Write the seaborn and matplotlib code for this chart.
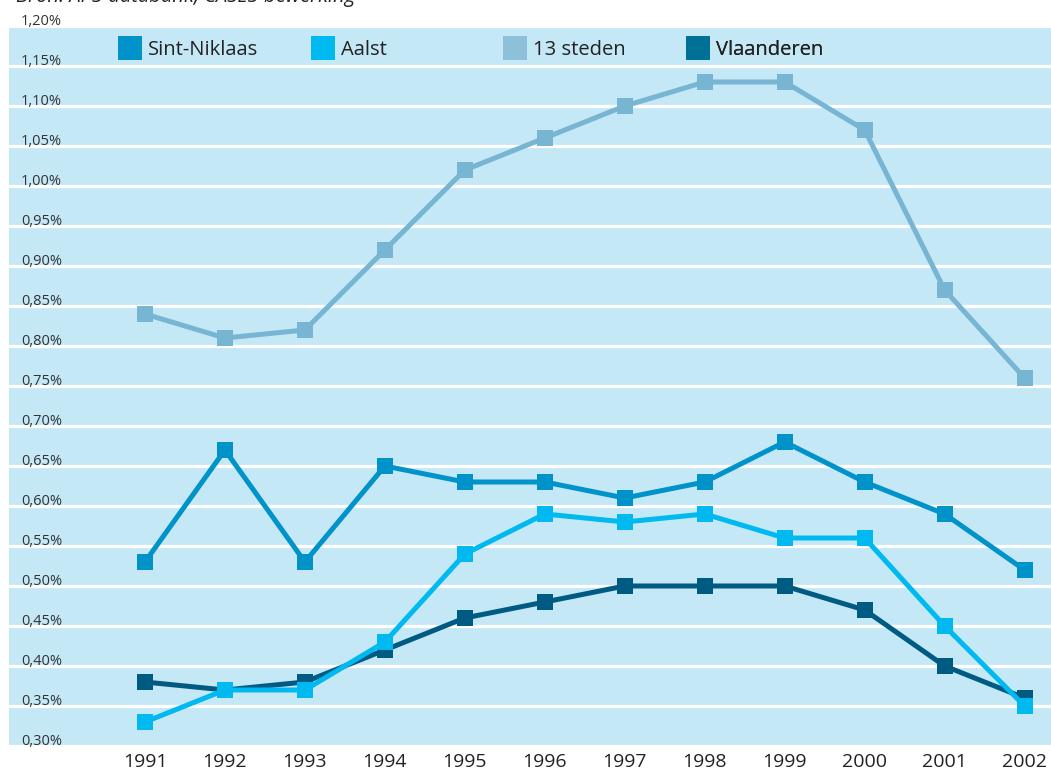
import matplotlib
matplotlib.use("Agg")
import matplotlib.pyplot as plt
import matplotlib.transforms as mtransforms
from matplotlib.lines import Line2D
import numpy as np
import pandas as pd
import seaborn as sns

# Werkloosheid / aandeel per jaar (in procent)
jaren = [1991, 1992, 1993, 1994, 1995, 1996, 1997, 1998, 1999, 2000, 2001, 2002]
sint_niklaas = [0.53, 0.67, 0.53, 0.65, 0.63, 0.63, 0.61, 0.63, 0.68, 0.63, 0.59, 0.52]
aalst = [0.33, 0.37, 0.37, 0.43, 0.54, 0.59, 0.58, 0.59, 0.56, 0.56, 0.45, 0.35]
dertien_steden = [0.84, 0.81, 0.82, 0.92, 1.02, 1.06, 1.10, 1.13, 1.13, 1.07, 0.87, 0.76]
vlaanderen = [0.38, 0.37, 0.38, 0.42, 0.46, 0.48, 0.50, 0.50, 0.50, 0.47, 0.40, 0.36]

reeksen = ["Sint-Niklaas", "Aalst", "13 steden", "Vlaanderen"]
y_ticks = [0.30, 0.35, 0.40, 0.45, 0.50, 0.55, 0.60, 0.65, 0.70, 0.75,
           0.80, 0.85, 0.90, 0.95, 1.00, 1.05, 1.10, 1.15, 1.20]
bron = "Bron: APS-databank, CASES-bewerking"

kleuren = {
    "Sint-Niklaas": "#0093c9",
    "Aalst": "#00b9f0",
    "13 steden": "#78b5d3",
    "Vlaanderen": "#005b82",
}
legende_kleuren = {
    "Sint-Niklaas": "#0093c9",
    "Aalst": "#00b9f0",
    "13 steden": "#8dc1da",
    "Vlaanderen": "#007196",
}

df = pd.DataFrame({
    "jaar": jaren * 4,
    "waarde": sint_niklaas + aalst + dertien_steden + vlaanderen,
    "reeks": sum([[r] * len(jaren) for r in reeksen], []),
})

sns.set_theme(style="white")
plt.rcParams["font.family"] = ["Open Sans", "DejaVu Sans"]

fig = plt.figure(figsize=(10.51, 7.74), dpi=100)
W, H = 1051, 774
ax = fig.add_axes([9 / W, (H - 746) / H, (W - 9) / W, 720 / H])
ax.set_facecolor("#c5e8f7")

# drawing order: lighter series behind, Aalst on top
teken_volgorde = ["13 steden", "Sint-Niklaas", "Vlaanderen", "Aalst"]
sns.lineplot(data=df, x="jaar", y="waarde", hue="reeks", hue_order=teken_volgorde,
             palette=kleuren, marker="s", markersize=11.5, markeredgewidth=0,
             linewidth=3.6, legend=False, ax=ax, zorder=3)

ax.set_xlim(1989.3, 2002.33)
ax.set_ylim(0.30, 1.20)
ax.set_xticks(jaren)
ax.set_xticklabels([str(j) for j in jaren], fontsize=14, color="#222222")
ax.set_yticks(y_ticks)
ax.set_yticklabels([])
ax.tick_params(axis="both", length=0)
ax.tick_params(axis="x", pad=5)
ax.set_xlabel("")
ax.set_ylabel("")
ax.grid(axis="y", color="white", linewidth=2.3, zorder=1)
ax.grid(axis="x", visible=False)
ax.set_axisbelow(True)
for s in ax.spines.values():
    s.set_visible(False)

# y-axis labels sit just above each gridline, inside the plot area
trans = mtransforms.blended_transform_factory(fig.transFigure, ax.transData)
trans = trans + mtransforms.ScaledTranslation(0, -3 / 100, fig.dpi_scale_trans)
for v in y_ticks:
    label = f"{v:.2f}".replace(".", ",") + "%"
    ax.text(21 / W, v, label, transform=trans, ha="left", va="bottom",
            fontsize=10.5, color="#333333", zorder=4, clip_on=False)

# legend entries placed individually along the top
posities = [120, 313, 505, 688]
for naam, px in zip(reeksen, posities):
    h = Line2D([], [], linestyle="none", marker="s", markersize=17.5,
               markeredgewidth=0, color=legende_kleuren[naam])
    leg = ax.legend([h], [naam], loc="center left",
                    bbox_to_anchor=(px / W, 1 - 50 / H), bbox_transform=fig.transFigure,
                    frameon=False, fontsize=14.5, handlelength=1.0,
                    handletextpad=0.4, borderpad=0, borderaxespad=0)
    for t in leg.get_texts():
        t.set_color("#222222")
    ax.add_artist(leg)

fig.text(16 / W, 1 + 3 / H, bron, ha="left", va="center", fontsize=14.5,
         style="italic", color="#222222")

fig.savefig("out.png", dpi=100, facecolor="white")
